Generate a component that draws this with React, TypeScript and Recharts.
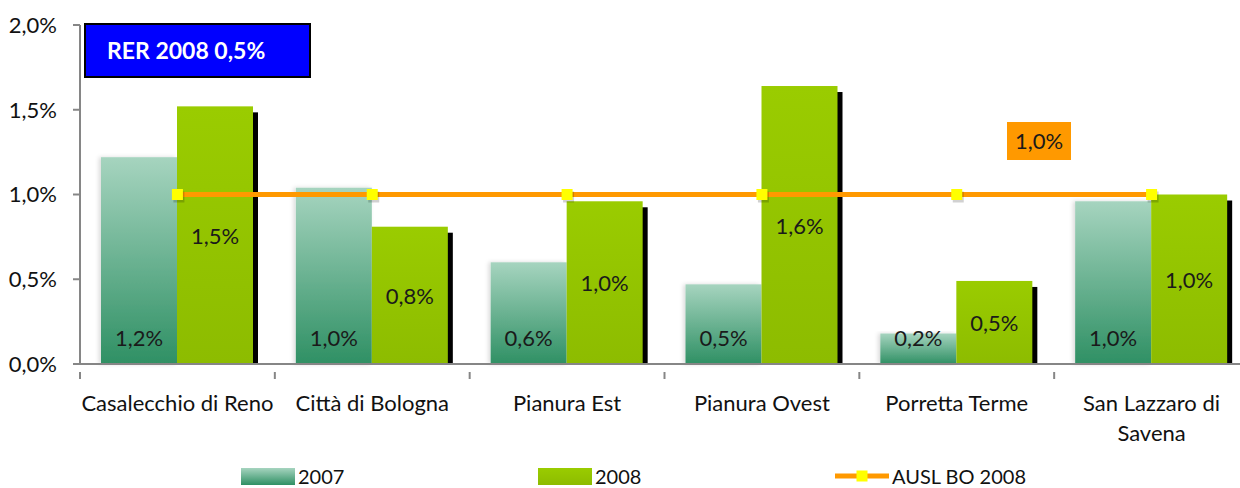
import React from "react";
import {
  Bar,
  ComposedChart,
  LabelList,
  Line,
  XAxis,
  YAxis,
} from "recharts";

const districts = [
  "Casalecchio di Reno",
  "Città di Bologna",
  "Pianura Est",
  "Pianura Ovest",
  "Porretta Terme",
  "San Lazzaro di Savena",
];
const rate2007 = [1.22, 1.04, 0.6, 0.47, 0.18, 0.96];
const rate2008 = [1.52, 0.81, 0.96, 1.64, 0.49, 1.0];
const auslBo2008 = [1.0, 1.0, 1.0, 1.0, 1.0, 1.0];
const yTicks = [0, 0.5, 1, 1.5, 2];

const rerLabel = "RER 2008 0,5%";
const auslLabel = "1,0%";

const data = districts.map((name, i) => ({
  name,
  y2007: rate2007[i],
  y2008: rate2008[i],
  ausl: auslBo2008[i],
}));

const FONT = "Lato, 'Open Sans', sans-serif";
const AXIS = "#868686";
const W = 1250;
const H = 488;
const PLOT_LEFT = 80;
const PLOT_RIGHT = 1;
const BAND = (W - PLOT_LEFT - PLOT_RIGHT) / districts.length;
const FS = 22;

const pct = (v: number) => v.toFixed(1).replace(".", ",") + "%";

const wrap = (s: string, max = 20) => {
  const lines: string[] = [];
  let cur = "";
  s.split(" ").forEach((w) => {
    const next = cur ? cur + " " + w : w;
    if (next.length > max && cur) {
      lines.push(cur);
      cur = w;
    } else cur = next;
  });
  if (cur) lines.push(cur);
  return lines;
};

const CategoryTick = (props: any) => {
  const { x, y, payload, index } = props;
  const lines = wrap(payload.value);
  const last = index === districts.length - 1;
  return (
    <g>
      <line x1={x - BAND / 2} x2={x - BAND / 2} y1={y} y2={y + 7} stroke={AXIS} strokeWidth={2} />
      {last && <line x1={x + BAND / 2} x2={x + BAND / 2} y1={y} y2={y + 7} stroke={AXIS} strokeWidth={2} />}
      <text x={x} y={y + 39} textAnchor="middle" fontSize={FS} fontFamily={FONT} fill="#111">
        {lines.map((l, i) => (
          <tspan key={i} x={x} dy={i === 0 ? 0 : 30}>
            {l}
          </tspan>
        ))}
      </text>
    </g>
  );
};

const ShadowBar = (props: any) => {
  const { x, y, width, height } = props;
  if (!height || height <= 0) return null;
  return (
    <g>
      <rect x={x + 5} y={y + 6} width={width} height={Math.max(0, height - 6)} fill="#000" />
      <rect x={x} y={y} width={width} height={height} fill="url(#g2008)" />
    </g>
  );
};

const SoftBar = (props: any) => {
  const { x, y, width, height } = props;
  if (!height || height <= 0) return null;
  return <rect x={x} y={y} width={width} height={height} fill="url(#g2007)" filter="url(#soft)" />;
};

const BaseLabel = (props: any) => {
  const { x, y, width, height, value } = props;
  return (
    <text x={x + width / 2} y={y + height - 27} textAnchor="middle" dominantBaseline="central" fontSize={FS} fontFamily={FONT} fill="#1a1a1a">
      {pct(value)}
    </text>
  );
};

const MidLabel = (props: any) => {
  const { x, y, width, height, value } = props;
  return (
    <text x={x + width / 2} y={y + height / 2} textAnchor="middle" dominantBaseline="central" fontSize={FS} fontFamily={FONT} fill="#1a1a1a">
      {pct(value)}
    </text>
  );
};

const SquareDot = (props: any) => {
  const { cx, cy } = props;
  if (cx == null || cy == null) return null;
  return (
    <g>
      <rect x={cx - 4} y={cy - 3} width={11} height={11} fill="rgba(0,0,0,0.18)" />
      <rect x={cx - 5.5} y={cy - 5.5} width={11} height={11} fill="#ffff00" />
    </g>
  );
};

const legendItems = [
  { name: "2007", kind: "g2007" },
  { name: "2008", kind: "g2008" },
  { name: "AUSL BO 2008", kind: "line" },
];

export default function App() {
  return (
    <div style={{ position: "absolute", left: 0, top: 0, width: 1240, height: H, overflow: "hidden", background: "#fff", fontFamily: FONT }}>
      <ComposedChart
        width={W}
        height={H}
        data={data}
        margin={{ top: 25, right: PLOT_RIGHT, left: 0, bottom: 24 }}
        barGap={0}
        barSize={76}
      >
        <defs>
          <linearGradient id="g2007" x1="0" y1="0" x2="0" y2="1">
            <stop offset="0%" stopColor="#a6d4bf" />
            <stop offset="100%" stopColor="#2f9064" />
          </linearGradient>
          <linearGradient id="g2008" x1="0" y1="0" x2="0" y2="1">
            <stop offset="0%" stopColor="#9acc00" />
            <stop offset="100%" stopColor="#8dbc00" />
          </linearGradient>
          <filter id="soft" x="-20%" y="-5%" width="140%" height="110%">
            <feDropShadow dx={-2} dy={0} stdDeviation={2} floodColor="#000" floodOpacity={0.15} />
          </filter>
        </defs>
        <XAxis
          dataKey="name"
          height={100}
          interval={0}
          tickLine={false}
          axisLine={{ stroke: AXIS, strokeWidth: 2 }}
          tick={<CategoryTick />}
        />
        <YAxis
          width={PLOT_LEFT}
          domain={[0, 2]}
          ticks={yTicks}
          tickFormatter={pct}
          tickSize={7}
          tickMargin={16}
          axisLine={{ stroke: AXIS, strokeWidth: 2 }}
          tickLine={{ stroke: AXIS, strokeWidth: 2 }}
          tick={{ fontSize: FS, fontFamily: FONT, fill: "#111" }}
        />
        <Bar dataKey="y2007" shape={<SoftBar />} isAnimationActive={false}>
          <LabelList dataKey="y2007" content={<BaseLabel />} />
        </Bar>
        <Bar dataKey="y2008" shape={<ShadowBar />} isAnimationActive={false}>
          <LabelList dataKey="y2008" content={<MidLabel />} />
        </Bar>
        <Line
          dataKey="ausl"
          stroke="#ff9900"
          strokeWidth={5}
          dot={<SquareDot />}
          activeDot={false}
          isAnimationActive={false}
        />
      </ComposedChart>

      <div
        style={{
          position: "absolute",
          left: 84,
          top: 23,
          width: 202,
          height: 51,
          background: "#0000ff",
          border: "2px solid #000",
          color: "#fff",
          fontWeight: 700,
          fontSize: 23,
          lineHeight: "51px",
          paddingLeft: 21,
          whiteSpace: "nowrap",
        }}
      >
        {rerLabel}
      </div>

      <div
        style={{
          position: "absolute",
          left: 1007,
          top: 122,
          width: 64,
          height: 38,
          background: "#ff9900",
          color: "#1a1a1a",
          fontSize: FS,
          lineHeight: "38px",
          textAlign: "center",
        }}
      >
        {auslLabel}
      </div>

      <div style={{ position: "absolute", left: 241, top: 465, display: "flex", fontSize: 20, color: "#111" }}>
        {legendItems.map((it) => (
          <div key={it.name} style={{ width: 297, display: "flex", alignItems: "center", height: 22, lineHeight: "22px" }}>
            {it.kind === "line" ? (
              <svg width={54} height={18} style={{ marginRight: 3 }}>
                <line x1={0} x2={54} y1={9} y2={9} stroke="#ff9900" strokeWidth={5} />
                <rect x={21.5} y={3.5} width={11} height={11} fill="#ffff00" />
              </svg>
            ) : (
              <div
                style={{
                  width: 54,
                  height: 17,
                  marginRight: 3,
                  background:
                    it.kind === "g2007"
                      ? "linear-gradient(#a6d4bf, #2f9064)"
                      : "linear-gradient(#9acc00, #8dbc00)",
                }}
              />
            )}
            <span>{it.name}</span>
          </div>
        ))}
      </div>
    </div>
  );
}
